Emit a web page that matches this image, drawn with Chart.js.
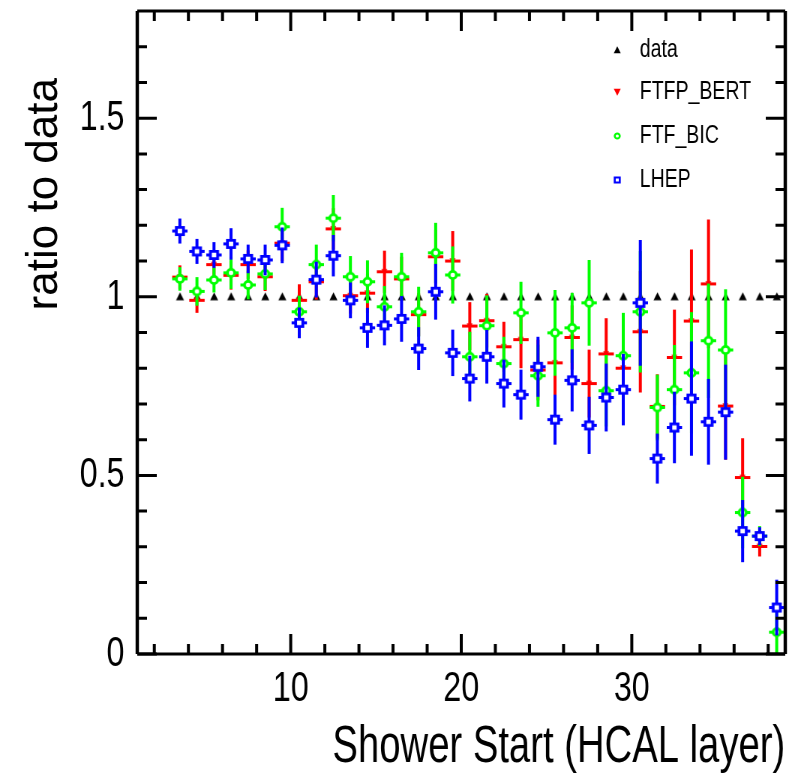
<!DOCTYPE html>
<html>
<head>
<meta charset="utf-8">
<script src="https://cdn.jsdelivr.net/npm/chart.js@4/dist/chart.umd.min.js"></script>
<style>
  html, body { margin: 0; padding: 0; background: #fff; overflow: hidden; }
  /* the reference is squeezed horizontally, so draw wide and squeeze */
  #wrap { width: 1061px; height: 780px; transform: scaleX(0.75); transform-origin: 0 0; }
</style>
</head>
<body>
<div id="wrap"><canvas id="myChart" width="1061" height="780"></canvas></div>
<script>
// shower start layer (bin centres)
var layers = [3.5, 4.5, 5.5, 6.5, 7.5, 8.5, 9.5, 10.5, 11.5, 12.5, 13.5, 14.5,
              15.5, 16.5, 17.5, 18.5, 19.5, 20.5, 21.5, 22.5, 23.5, 24.5, 25.5, 26.5,
              27.5, 28.5, 29.5, 30.5, 31.5, 32.5, 33.5, 34.5, 35.5, 36.5, 37.5, 38.5]

var dataRatio = [1, 1, 1, 1, 1, 1, 1, 1, 1, 1, 1, 1,
                 1, 1, 1, 1, 1, 1, 1, 1, 1, 1, 1, 1,
                 1, 1, 1, 1, 1, 1, 1, 1, 1, 1, 1, 1]

var ftfpBert = [1.055, 0.99, 1.09, 1.06, 1.09, 1.056, 1.15, 0.99, 1.042, 1.19, 1.003, 1.01,
                1.07, 1.05, 0.95, 1.112, 1.10, 0.918, 0.933, 0.86, 0.88, 0.795, 0.815, 0.886,
                0.757, 0.84, 0.80, 0.902, 0.693, 0.83, 0.932, 1.036, 0.694, 0.494, 0.301, null]
var ftfpBertErr = [0.033, 0.035, 0.036, 0.04, 0.04, 0.04, 0.05, 0.045, 0.05, 0.058, 0.05, 0.055,
                   0.059, 0.062, 0.06, 0.075, 0.084, 0.067, 0.075, 0.07, 0.08, 0.085, 0.09, 0.09,
                   0.095, 0.1, 0.1, 0.17, 0.09, 0.134, 0.2, 0.18, 0.15, 0.11, 0.028, null]

var ftfBic = [1.05, 1.015, 1.047, 1.067, 1.033, 1.064, 1.196, 0.958, 1.09, 1.22, 1.056, 1.042,
              0.972, 1.056, 0.958, 1.123, 1.061, 0.832, 0.919, 0.813, 0.955, 0.779, 0.899, 0.913,
              0.983, 0.737, 0.835, 0.958, 0.69, 0.74, 0.787, 0.877, 0.851, 0.396, 0.33, 0.061]
var ftfBicErr = [0.033, 0.04, 0.035, 0.045, 0.04, 0.045, 0.053, 0.045, 0.056, 0.065, 0.058, 0.06,
                 0.058, 0.067, 0.07, 0.084, 0.08, 0.07, 0.085, 0.075, 0.087, 0.087, 0.12, 0.098,
                 0.12, 0.1, 0.12, 0.17, 0.092, 0.125, 0.17, 0.16, 0.17, 0.1, 0.028, 0.07]

var lhep = [1.184, 1.127, 1.117, 1.148, 1.106, 1.103, 1.144, 0.927, 1.048, 1.115, 0.99, 0.913,
            0.92, 0.938, 0.855, 1.014, 0.843, 0.771, 0.832, 0.757, 0.726, 0.804, 0.656, 0.766,
            0.64, 0.718, 0.74, 0.983, 0.547, 0.634, 0.715, 0.65, 0.677, 0.344, 0.33, 0.13]
var lhepErr = [0.035, 0.035, 0.036, 0.044, 0.04, 0.043, 0.05, 0.043, 0.05, 0.058, 0.05, 0.056,
               0.056, 0.064, 0.06, 0.078, 0.065, 0.064, 0.075, 0.067, 0.07, 0.084, 0.07, 0.087,
               0.08, 0.095, 0.1, 0.176, 0.07, 0.1, 0.16, 0.12, 0.133, 0.087, 0.025, 0.078]

var xLabelTicks = [10, 20, 30]
var xMinorTicks = [2, 4, 6, 8, 12, 14, 16, 18, 22, 24, 26, 28, 32, 34, 36, 38]
var yLabelTicks = [0, 0.5, 1, 1.5]
var yMinorTicks = [0.1, 0.2, 0.3, 0.4, 0.6, 0.7, 0.8, 0.9, 1.1, 1.2, 1.3, 1.4, 1.6, 1.7]

var legendNames = ['data', 'FTFP_BERT', 'FTF_BIC', 'LHEP']

var FONT = "'Liberation Sans', Arial, sans-serif"
var SQ = 0.75      // horizontal squeeze of the page
var halfBin = 0.45

function points(ys) {
    return layers.map(function(x, i) { return { x: x, y: ys[i] } })
}

// draws a marker shape centred at 0,0 in final (unsqueezed) pixels
function drawShape(c, kind, color, s) {
    c.beginPath()
    if (kind === 'up') {
        c.fillStyle = color
        c.moveTo(0, -s * 0.55); c.lineTo(s * 0.5, s * 0.45); c.lineTo(-s * 0.5, s * 0.45)
        c.closePath(); c.fill()
    } else if (kind === 'down') {
        c.fillStyle = color
        c.moveTo(0, s * 0.55); c.lineTo(s * 0.5, -s * 0.45); c.lineTo(-s * 0.5, -s * 0.45)
        c.closePath(); c.fill()
    } else if (kind === 'circle') {
        c.fillStyle = '#fff'
        c.strokeStyle = color
        c.lineWidth = s * 0.28
        c.arc(0, 0, s * 0.36, 0, Math.PI * 2)
        c.fill(); c.stroke()
    } else {
        c.fillStyle = '#fff'
        c.strokeStyle = color
        c.lineWidth = s * 0.28
        var h = s * 0.36
        c.rect(-h, -h, 2 * h, 2 * h)
        c.fill(); c.stroke()
    }
}

// marker images, pre-stretched so they look right after the squeeze
function marker(kind, color, s) {
    var cv = document.createElement('canvas')
    cv.width = Math.round((s + 2) / SQ)
    cv.height = s + 2
    var c = cv.getContext('2d')
    c.scale(1 / SQ, 1)
    c.translate((s + 2) / 2, (s + 2) / 2)
    drawShape(c, kind, color, s)
    return cv
}

// error bars drawn under each dataset's markers
var errorBars = {
    id: 'errorBars',
    beforeDatasetDraw: function(chart, args) {
        var ds = chart.data.datasets[args.index]
        if (!ds.errors) return
        var xs = chart.scales.x, ys = chart.scales.y, a = chart.chartArea
        var ctx = chart.ctx
        ctx.save()
        ctx.beginPath()
        ctx.rect(a.left, a.top, a.right - a.left, a.bottom - a.top)
        ctx.clip()
        ctx.strokeStyle = ds.borderColor
        ds.data.forEach(function(p, i) {
            var e = ds.errors[i]
            if (p.y == null || e == null) return
            var px = xs.getPixelForValue(p.x)
            var py = ys.getPixelForValue(p.y)
            ctx.lineWidth = 4
            ctx.beginPath()
            ctx.moveTo(px, ys.getPixelForValue(p.y - e))
            ctx.lineTo(px, ys.getPixelForValue(p.y + e))
            ctx.stroke()
            ctx.lineWidth = 3
            ctx.beginPath()
            ctx.moveTo(xs.getPixelForValue(p.x - halfBin), py)
            ctx.lineTo(xs.getPixelForValue(p.x + halfBin), py)
            ctx.stroke()
        })
        ctx.restore()
    }
}

// ROOT-like frame, inward ticks, titles and legend
var frame = {
    id: 'frame',
    afterDraw: function(chart) {
        var ctx = chart.ctx, a = chart.chartArea
        var xs = chart.scales.x, ys = chart.scales.y
        ctx.save()
        ctx.strokeStyle = '#000'
        ctx.lineWidth = 3
        ctx.beginPath()
        ctx.moveTo(a.left, a.top); ctx.lineTo(a.right, a.top)
        ctx.moveTo(a.left, a.bottom); ctx.lineTo(a.right, a.bottom)
        ctx.stroke()
        ctx.lineWidth = 4.5
        ctx.beginPath()
        ctx.moveTo(a.left, a.top); ctx.lineTo(a.left, a.bottom)
        ctx.moveTo(a.right, a.top); ctx.lineTo(a.right, a.bottom)
        ctx.stroke()

        // x ticks (bottom and top)
        ctx.lineWidth = 4
        ctx.beginPath()
        xLabelTicks.concat(xMinorTicks).forEach(function(v) {
            var len = xLabelTicks.indexOf(v) >= 0 ? 20 : 10
            var px = xs.getPixelForValue(v)
            ctx.moveTo(px, a.bottom); ctx.lineTo(px, a.bottom - len)
            ctx.moveTo(px, a.top); ctx.lineTo(px, a.top + len)
        })
        ctx.stroke()
        // y ticks (left and right)
        ctx.lineWidth = 3
        ctx.beginPath()
        yLabelTicks.concat(yMinorTicks).forEach(function(v) {
            var len = yLabelTicks.indexOf(v) >= 0 ? 26 : 13
            var py = ys.getPixelForValue(v)
            ctx.moveTo(a.left, py); ctx.lineTo(a.left + len, py)
            ctx.moveTo(a.right, py); ctx.lineTo(a.right - len, py)
        })
        ctx.stroke()

        // axis titles
        ctx.fillStyle = '#000'
        ctx.font = '51px ' + FONT
        ctx.textAlign = 'right'
        ctx.textBaseline = 'alphabetic'
        ctx.fillText('Shower Start (HCAL layer)', 1047, 762)

        ctx.save()
        ctx.scale(1 / SQ, 1)
        ctx.translate(57, 78)
        ctx.rotate(-Math.PI / 2)
        ctx.font = '44px ' + FONT
        ctx.textAlign = 'right'
        ctx.fillText('ratio to data', 0, 0)
        ctx.restore()

        // legend
        var lx = 823, tx = 853
        var rows = [50, 92, 136, 180]
        var kinds = [['up', '#000'], ['down', '#ff0000'], ['circle', '#00ff00'], ['square', '#0000ff']]
        ctx.font = '26px ' + FONT
        ctx.textAlign = 'left'
        ctx.textBaseline = 'middle'
        legendNames.forEach(function(name, i) {
            var y = rows[i]
            ctx.fillStyle = '#000'
            ctx.fillText(name, tx, y)
            ctx.save()
            ctx.translate(lx, y)
            ctx.scale(1 / SQ, 1)
            drawShape(ctx, kinds[i][0], kinds[i][1], 7)
            ctx.restore()
        })
        ctx.restore()
    }
}

var ctx = document.getElementById('myChart').getContext('2d')

var chart = new Chart(ctx, {
    type: 'scatter',
    data: {
        datasets: [{
            label: 'data',
            data: points(dataRatio),
            pointStyle: marker('up', '#000', 8),
            order: 4
        }, {
            label: 'FTFP_BERT',
            data: points(ftfpBert),
            errors: ftfpBertErr,
            pointStyle: marker('down', '#ff0000', 6),
            borderColor: '#ff0000',
            order: 3
        }, {
            label: 'FTF_BIC',
            data: points(ftfBic),
            errors: ftfBicErr,
            pointStyle: marker('circle', '#00ff00', 10),
            borderColor: '#00ff00',
            order: 2
        }, {
            label: 'LHEP',
            data: points(lhep),
            errors: lhepErr,
            pointStyle: marker('square', '#0000ff', 10),
            borderColor: '#0000ff',
            order: 1
        }]
    },
    options: {
        responsive: false,
        animation: false,
        devicePixelRatio: 1,
        events: [],
        layout: { padding: { top: 11, right: 14, left: 0, bottom: 0 } },
        plugins: {
            legend: { display: false },
            tooltip: { enabled: false }
        },
        scales: {
            x: {
                type: 'linear',
                min: 1,
                max: 39,
                grid: { display: false, drawTicks: false },
                border: { display: false },
                afterBuildTicks: function(s) { s.ticks = xLabelTicks.map(function(v) { return { value: v } }) },
                afterFit: function(s) { s.height = 126; s.paddingLeft = 0; s.paddingRight = 0 },
                ticks: {
                    autoSkip: false,
                    maxRotation: 0,
                    padding: 9,
                    color: '#000',
                    font: { family: FONT, size: 43 },
                    callback: function(v) { return String(v) }
                }
            },
            y: {
                type: 'linear',
                min: 0,
                max: 1.8,
                grid: { display: false, drawTicks: false },
                border: { display: false },
                afterBuildTicks: function(s) { s.ticks = yLabelTicks.map(function(v) { return { value: v } }) },
                afterFit: function(s) { s.width = 183; s.paddingTop = 0; s.paddingBottom = 0 },
                ticks: {
                    autoSkip: false,
                    padding: 17,
                    color: '#000',
                    font: { family: FONT, size: 43 },
                    callback: function(v) { return String(v) }
                }
            }
        }
    },
    plugins: [errorBars, frame]
})
</script>
</body>
</html>
